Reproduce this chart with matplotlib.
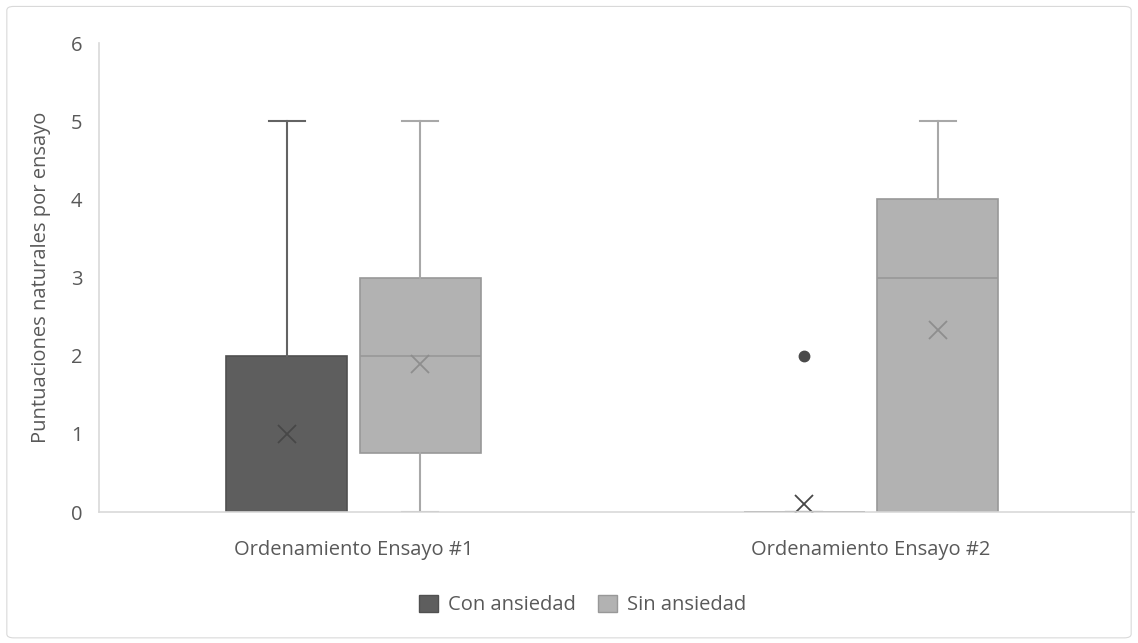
import matplotlib.pyplot as plt
from matplotlib.patches import FancyBboxPatch, Patch

plt.rcParams['font.family'] = ['Open Sans', 'DejaVu Sans']

# Data (precomputed box statistics)
CATEGORIES = ['Ordenamiento Ensayo #1', 'Ordenamiento Ensayo #2']
SERIES = ['Con ansiedad', 'Sin ansiedad']

Q1 = {'Con ansiedad': [0, 0], 'Sin ansiedad': [0.75, 0]}
MED = {'Con ansiedad': [0, 0], 'Sin ansiedad': [2, 3]}
Q3 = {'Con ansiedad': [2, 0], 'Sin ansiedad': [3, 4]}
WLO = {'Con ansiedad': [0, 0], 'Sin ansiedad': [0, 0]}
WHI = {'Con ansiedad': [5, 0], 'Sin ansiedad': [5, 5]}
MEAN = {'Con ansiedad': [1.0, 0.1], 'Sin ansiedad': [1.9, 2.33]}
OUTLIERS = {'Con ansiedad': [[], [2]], 'Sin ansiedad': [[], []]}

FILL = {'Con ansiedad': '#5e5e5e', 'Sin ansiedad': '#b2b2b2'}
EDGE = {'Con ansiedad': '#505050', 'Sin ansiedad': '#989898'}
WHISK = {'Con ansiedad': '#636363', 'Sin ansiedad': '#a8a8a8'}
MCOL = {'Con ansiedad': '#474747', 'Sin ansiedad': '#8e8e8e'}
TXT = '#595959'

fig = plt.figure(figsize=(11.38, 6.43), dpi=100)
border = FancyBboxPatch((0.006, 0.008), 0.988, 0.982,
                        boxstyle='round,pad=0,rounding_size=0.006',
                        transform=fig.transFigure, facecolor='white',
                        edgecolor='#d9d9d9', linewidth=0.8, zorder=-10)
fig.patches.append(border)
ax = fig.add_axes([0.0870, 0.2037, 0.9095, 0.7294])
ax.set_facecolor('none')
ax.set_zorder(5)

offsets = {'Con ansiedad': -0.129, 'Sin ansiedad': 0.129}
for s in SERIES:
    stats = []
    for i in range(len(CATEGORIES)):
        stats.append(dict(q1=Q1[s][i], med=MED[s][i], q3=Q3[s][i],
                          whislo=WLO[s][i], whishi=WHI[s][i],
                          mean=MEAN[s][i], fliers=OUTLIERS[s][i]))
    pos = [i + offsets[s] for i in range(len(CATEGORIES))]
    ax.bxp(stats, positions=pos, widths=0.234, patch_artist=True,
           showmeans=True, showfliers=True, capwidths=0.07,
           boxprops=dict(facecolor=FILL[s], edgecolor=EDGE[s], linewidth=1.2),
           medianprops=dict(color=EDGE[s], linewidth=1.2),
           whiskerprops=dict(color=WHISK[s], linewidth=1.5),
           capprops=dict(color=WHISK[s], linewidth=1.5),
           meanprops=dict(marker='x', markeredgecolor=MCOL[s], markersize=12.5,
                          markeredgewidth=1.3),
           flierprops=dict(marker='o', markerfacecolor='#4a4a4a',
                           markeredgecolor='#4a4a4a', markersize=7.5))

ax.set_xlim(-0.492, 1.508)
ax.set_ylim(0, 6)
ax.set_xticks(range(len(CATEGORIES)))
ax.set_xticklabels(CATEGORIES)
ax.set_yticks(range(7))
for sp in ['top', 'right']:
    ax.spines[sp].set_visible(False)
for sp in ['left', 'bottom']:
    ax.spines[sp].set_color('#d9d9d9')
    ax.spines[sp].set_linewidth(1.2)
ax.tick_params(axis='both', length=0, colors=TXT, labelsize=14.5)
ax.tick_params(axis='y', pad=12)
ax.tick_params(axis='x', pad=20)
ax.set_ylabel('Puntuaciones naturales por ensayo', color=TXT, fontsize=14.5, labelpad=14)

handles = [Patch(facecolor=FILL[s], edgecolor=EDGE[s], label=s) for s in SERIES]
fig.legend(handles=handles, loc='center', bbox_to_anchor=(0.512, 0.059), ncol=2,
           frameon=False, fontsize=14.5, labelcolor=TXT, handlelength=0.95,
           handleheight=0.95, columnspacing=1.1, handletextpad=0.5)

fig.savefig('out.png', dpi=100)
